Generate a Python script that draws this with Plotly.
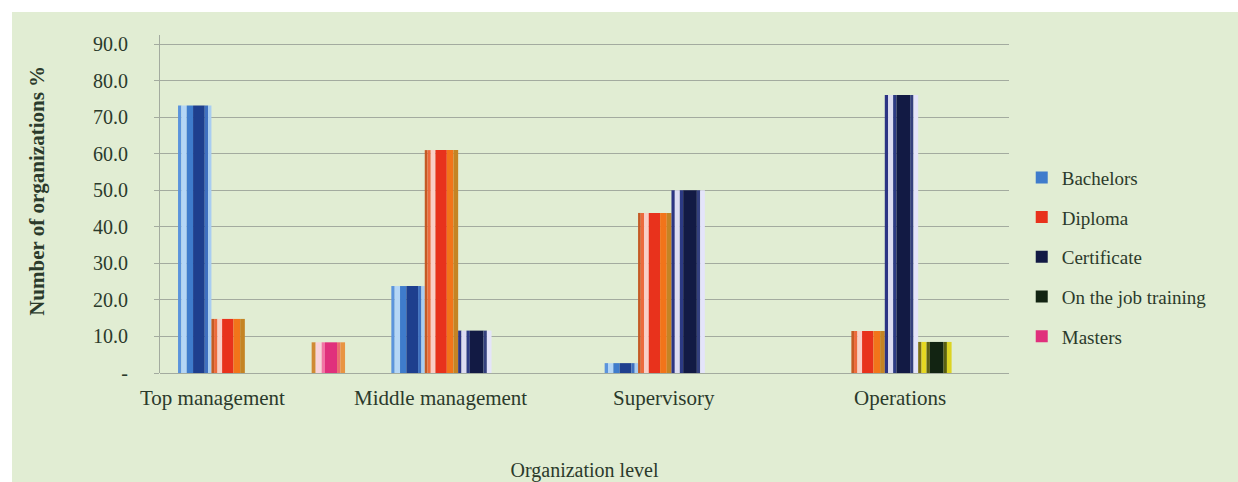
import plotly.graph_objects as go

# Organization levels and the share of organizations (%) by qualification
levels = ["Top management", "Middle management", "Supervisory", "Operations"]
bachelors = [73.2, 23.8, 2.7, 0.0]
diploma = [14.8, 61.0, 43.8, 11.5]
certificate = [0.0, 11.6, 50.0, 76.1]
on_the_job = [0.0, 0.0, 0.0, 8.5]
masters = [8.4, 0.0, 0.0, 0.0]

y_ticks = [0, 10, 20, 30, 40, 50, 60, 70, 80, 90]
y_tick_text = ["-", "10.0", "20.0", "30.0", "40.0", "50.0", "60.0", "70.0", "80.0", "90.0"]

# Cylinder-like shading: (start fraction, end fraction, colour) stripes across each bar,
# the "main" stripe index is the one used for the legend swatch
series = [
    ("Bachelors", bachelors, 2, [
        (0.00, 0.10, "#5b94dc"), (0.10, 0.26, "#b4d6f6"), (0.26, 0.45, "#3f7ccc"),
        (0.45, 0.80, "#1e3f8e"), (0.80, 0.90, "#3f70c0"), (0.90, 1.00, "#a8cdf2")]),
    ("Diploma", diploma, 3, [
        (0.00, 0.08, "#c45a24"), (0.08, 0.18, "#ec6a3c"), (0.18, 0.32, "#f9cfc6"),
        (0.32, 0.66, "#e8321c"), (0.66, 0.86, "#f2741a"), (0.86, 1.00, "#c48424")]),
    ("Certificate", certificate, 3, [
        (0.00, 0.10, "#2c3484"), (0.10, 0.25, "#dcdcf2"), (0.25, 0.35, "#2c3a84"),
        (0.35, 0.76, "#121a44"), (0.76, 0.86, "#34407e"), (0.86, 1.00, "#e4e4fa")]),
    ("On the job training", on_the_job, 3, [
        (0.00, 0.10, "#7e7014"), (0.10, 0.25, "#e6d822"), (0.25, 0.35, "#5e6014"),
        (0.35, 0.76, "#122412"), (0.76, 0.86, "#5a6010"), (0.86, 1.00, "#dcd424")]),
    ("Masters", masters, 3, [
        (0.00, 0.12, "#d08a34"), (0.12, 0.30, "#f9d2da"), (0.30, 0.40, "#f274a4"),
        (0.40, 0.76, "#e0307c"), (0.76, 0.86, "#ec6c70"), (0.86, 1.00, "#e89442")]),
]

group_width = 0.783
bar_width = group_width / len(series)

fig = go.Figure()
for k, (name, values, main_idx, stripes) in enumerate(series):
    bar_left = -group_width / 2 + k * bar_width
    for i, (f0, f1, color) in enumerate(stripes):
        fig.add_trace(go.Bar(
            x=levels,
            y=values,
            offset=bar_left + f0 * bar_width,
            width=(f1 - f0) * bar_width,
            marker=dict(color=color, line=dict(width=0)),
            name=name,
            legendgroup=name,
            showlegend=(i == main_idx),
            hoverinfo="skip" if i != main_idx else None,
        ))

font_family = "Liberation Serif"
text_color = "#2b3a2b"
green = "#e1edd3"
grid = "#a3ab9f"

# Category labels sit under each group, nudged as in the original layout
label_shift = [-49, -34, -24, -1]
for lvl, dx in zip(levels, label_shift):
    fig.add_annotation(
        x=lvl, y=0, xref="x", yref="y", yanchor="top", yshift=-11, xshift=dx,
        text=lvl, showarrow=False,
        font=dict(family=font_family, size=21, color=text_color),
    )

fig.update_layout(
    width=1238, height=482,
    margin=dict(l=160, r=229, t=35, b=109, autoexpand=False),
    paper_bgcolor=green,
    plot_bgcolor=green,
    barmode="overlay",
    font=dict(family=font_family, color=text_color),
    legend=dict(
        x=1.015, y=0.343, xanchor="left", yanchor="middle",
        bgcolor="rgba(0,0,0,0)",
        font=dict(family=font_family, size=19, color=text_color),
        tracegroupgap=12,
        itemclick=False,
    ),
    xaxis=dict(
        type="category",
        range=[-0.476, 3.504],
        automargin=False,
        showticklabels=False,
        showgrid=False,
        zeroline=False,
        showline=False,
        ticks="",
        title=dict(text="Organization level", standoff=100,
                   font=dict(family=font_family, size=20, color=text_color)),
    ),
    yaxis=dict(
        range=[0, 92.5],
        automargin=False,
        tickvals=y_ticks,
        ticktext=y_tick_text,
        tickfont=dict(family=font_family, size=20, color=text_color),
        showgrid=True,
        gridcolor=grid,
        gridwidth=1,
        zeroline=True,
        zerolinecolor=grid,
        zerolinewidth=1,
        showline=True,
        linecolor=grid,
        linewidth=1,
        ticks="outside",
        ticklen=5,
        tickcolor=grid,
        ticklabelstandoff=22,
        title=dict(text="&nbsp;" * 5 + "<b>Number of organizations %</b>", standoff=42,
                   font=dict(family=font_family, size=21, color=text_color)),
    ),
    shapes=[
        # white page margin along the top and left edges
        dict(type="rect", xref="paper", yref="paper",
             x0=-160 / 849, x1=1078 / 849, y0=361 / 338, y1=1.2,
             fillcolor="white", line=dict(width=0), layer="above"),
        dict(type="rect", xref="paper", yref="paper",
             x0=-160 / 849, x1=-148 / 849, y0=-0.35, y1=1.2,
             fillcolor="white", line=dict(width=0), layer="above"),
    ],
)

fig.write_html("out.html")
